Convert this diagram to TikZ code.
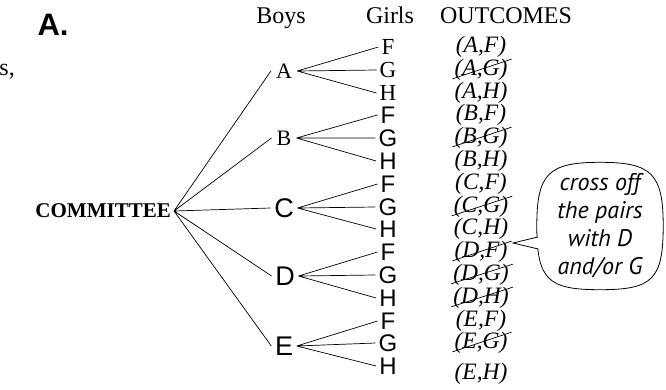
\documentclass[tikz,border=0pt]{standalone}
\usepackage{fontspec}
\setmainfont{Liberation Serif}
\newfontfamily\helv{Liberation Sans}
\newfontfamily\handfont{PT Sans}
\tikzset{
  head/.style={font=\fontsize{24}{28}\selectfont, anchor=base},
  rmboy/.style={font=\fontsize{22}{26}\selectfont, inner sep=5pt},
  sfboy/.style={font=\helv\fontsize{27}{32}\selectfont, inner sep=3.5pt},
  rmgirl/.style={font=\fontsize{23}{27}\selectfont, inner sep=3pt},
  sfgirl/.style={font=\helv\fontsize{24}{28}\selectfont, inner sep=3pt},
  pair/.style={font=\fontsize{23.5}{27}\selectfont\itshape, inner sep=0pt},
  crossed/.style={pair, append after command={([xshift=-2pt,yshift=2pt]\tikzlastnode.south west) edge[line width=0.7pt] ([xshift=4pt]\tikzlastnode.north east)}},
  branch/.style={line width=0.7pt},
  bubble/.style={line width=0.8pt}
}

\begin{document}
\begin{tikzpicture}[x=1pt,y=-1pt]
    \useasboundingbox (0,0) rectangle (666,389);
    \node[font=\helv\bfseries\fontsize{31}{36}\selectfont] (lbl) at (53,25) {A.};
    \node[font=\fontsize{24}{28}\selectfont, anchor=base east, inner sep=0pt] (frag) at (15,75) {s,};
    \node[head] (hb) at (281,23) {Boys};
    \node[head] (hg) at (390,23) {Girls};
    \node[head] (ho) at (506,23) {OUTCOMES};
    \node[font=\bfseries\fontsize{21}{25}\selectfont, anchor=east, inner sep=3pt] (com) at (174,211) {COMMITTEE};
    \node[rmboy] (a) at (284,71) {A};
    \node[rmboy] (b) at (284,138) {B};
    \node[sfboy] (c) at (284,208) {C};
    \node[sfboy] (d) at (285,276) {D};
    \node[sfboy] (e) at (284,346) {E};
    \node[rmgirl] (af) at (388,47) {F};
    \node[rmgirl] (ag) at (388,70) {G};
    \node[rmgirl] (ah) at (388,93) {H};
    \node[sfgirl] (bf) at (388,115) {F};
    \node[sfgirl] (bg) at (388,138) {G};
    \node[sfgirl] (bh) at (388,161) {H};
    \node[sfgirl] (cf) at (388,184) {F};
    \node[sfgirl] (cg) at (388,207) {G};
    \node[sfgirl] (ch) at (388,229) {H};
    \node[sfgirl] (df) at (388,252) {F};
    \node[sfgirl] (dg) at (388,275) {G};
    \node[sfgirl] (dh) at (388,298) {H};
    \node[sfgirl] (ef) at (388,321) {F};
    \node[sfgirl] (eg) at (388,343) {G};
    \node[sfgirl] (eh) at (388,366) {H};
    \draw[branch] (com.east) -- (a.west) (com.east) -- (b.west) (com.east) -- (c.west)
      (com.east) -- (d.west) (com.east) -- (e.west);
    \draw[branch] (a.east) -- (af.west) (a.east) -- (ag.west) (a.east) -- (ah.west);
    \draw[branch] (b.east) -- (bf.west) (b.east) -- (bg.west) (b.east) -- (bh.west);
    \draw[branch] (c.east) -- (cf.west) (c.east) -- (cg.west) (c.east) -- (ch.west);
    \draw[branch] (d.east) -- (df.west) (d.east) -- (dg.west) (d.east) -- (dh.west);
    \draw[branch] (e.east) -- (ef.west) (e.east) -- (eg.west) (e.east) -- (eh.west);
    \node[pair] (xaf) at (481,47) {(A,F)};
    \node[crossed] (xag) at (481,70) {(A,G)};
    \node[pair] (xah) at (481,93) {(A,H)};
    \node[pair] (xbf) at (481,115) {(B,F)};
    \node[crossed] (xbg) at (481,138) {(B,G)};
    \node[pair] (xbh) at (481,161) {(B,H)};
    \node[pair] (xcf) at (481,184) {(C,F)};
    \node[crossed] (xcg) at (481,207) {(C,G)};
    \node[pair] (xch) at (481,229) {(C,H)};
    \node[crossed] (xdf) at (481,252) {(D,F)};
    \node[crossed] (xdg) at (481,275) {(D,G)};
    \node[crossed] (xdh) at (481,298) {(D,H)};
    \node[pair] (xef) at (481,321) {(E,F)};
    \node[crossed] (xeg) at (481,343) {(E,G)};
    \node[pair] (xeh) at (481,374) {(E,H)};
    \node[minimum width=126pt, minimum height=127pt, inner sep=0pt,
      align=center, font=\handfont\itshape\fontsize{24}{28}\selectfont] (msg) at (600,226)
      {cross off\\the pairs\\with D\\and/or G};
    \coordinate (tip) at (513,243);
    \draw[bubble] (msg.north) .. controls +(52,0) and +(0,-52) .. (msg.east)
      .. controls +(0,54) and +(52,0) .. (msg.south)
      .. controls +(-52,0) and +(0,54) .. (msg.west)
      .. controls +(0,-52) and +(-52,0) .. (msg.north);
    \fill[white] ([xshift=2pt,yshift=-11pt]msg.west) -- (tip) -- ([xshift=2pt,yshift=-23pt]msg.west) -- cycle;
    \draw[bubble] ([xshift=1pt,yshift=-11pt]msg.west) -- (tip) -- ([xshift=1.5pt,yshift=-23pt]msg.west);
\end{tikzpicture}
\end{document}
